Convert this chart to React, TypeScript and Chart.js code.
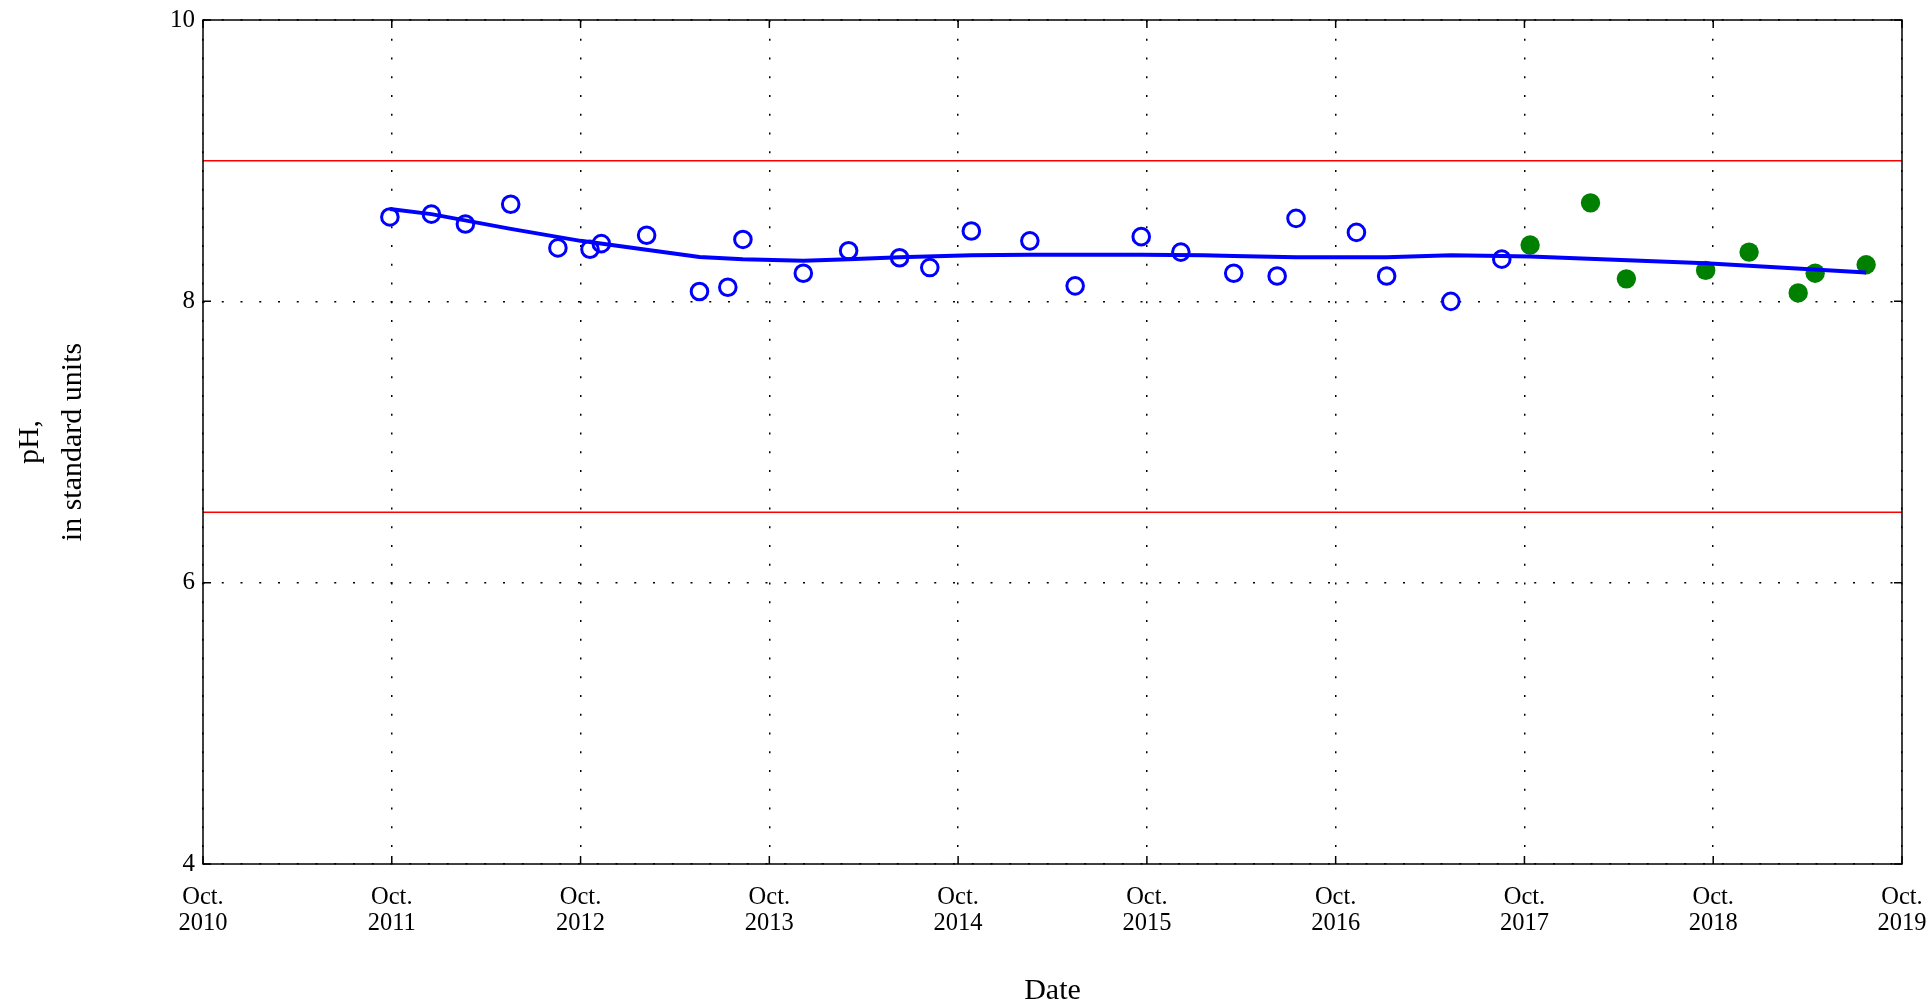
import React, { useEffect, useRef } from "react";
import { Chart, registerables } from "chart.js";

Chart.register(...registerables);

// X axis: ticks at October of each year (decimal years)
const xTickYears = [2010, 2011, 2012, 2013, 2014, 2015, 2016, 2017, 2018, 2019];
const xTickValues = xTickYears.map((y) => y + 0.75);
const xMin = 2010.75;
const xMax = 2019.75;

// Y axis
const yMin = 4;
const yMax = 10;
const yStep = 2;

// Reference limits (pH standard units)
const upperLimit = 9.0;
const lowerLimit = 6.5;

// Samples before Oct. 2017 (open blue circles)
const blueDates = [
  2011.74, 2011.96, 2012.14, 2012.38, 2012.63, 2012.80, 2012.86, 2013.10, 2013.38,
  2013.53, 2013.61, 2013.93, 2014.17, 2014.44, 2014.60, 2014.82, 2015.13, 2015.37,
  2015.72, 2015.93, 2016.21, 2016.44, 2016.54, 2016.86, 2017.02, 2017.36, 2017.63,
];
const blueValues = [
  8.60, 8.62, 8.55, 8.69, 8.38, 8.37, 8.41, 8.47, 8.07,
  8.10, 8.44, 8.20, 8.36, 8.31, 8.24, 8.50, 8.43, 8.11,
  8.46, 8.35, 8.20, 8.18, 8.59, 8.49, 8.18, 8.00, 8.30,
];

// Recent samples (filled green circles)
const greenDates = [2017.78, 2018.10, 2018.29, 2018.71, 2018.94, 2019.20, 2019.29, 2019.56];
const greenValues = [8.40, 8.70, 8.16, 8.22, 8.35, 8.06, 8.20, 8.26];

// Smoothed trend line
const trendDates = [
  2011.74, 2011.96, 2012.38, 2012.75, 2013.38, 2013.61, 2013.93, 2014.17, 2014.44,
  2014.82, 2015.13, 2015.72, 2016.05, 2016.21, 2016.54, 2017.02, 2017.36, 2017.63,
  2017.78, 2018.71, 2019.56,
];
const trendValues = [
  8.656, 8.62, 8.515, 8.43, 8.315, 8.30, 8.289, 8.30, 8.313,
  8.327, 8.332, 8.332, 8.327, 8.322, 8.313, 8.313, 8.327, 8.322,
  8.318, 8.27, 8.205,
];

const FONT = "'Liberation Serif', 'DejaVu Serif', serif";

const framePlugin = {
  id: "frame",
  afterDatasetsDraw(chart: any) {
    const { ctx, chartArea } = chart;
    const { left, right, top, bottom } = chartArea;
    const xs = chart.scales.x;
    const ys = chart.scales.y;
    ctx.save();
    ctx.setLineDash([]);
    ctx.strokeStyle = "#000";
    ctx.lineWidth = 1.5;
    ctx.strokeRect(left, top, right - left, bottom - top);
    const L = 8;
    ctx.beginPath();
    xs.ticks.forEach((t: any) => {
      const px = xs.getPixelForValue(t.value);
      ctx.moveTo(px, bottom);
      ctx.lineTo(px, bottom - L);
      ctx.moveTo(px, top);
      ctx.lineTo(px, top + L);
    });
    ys.ticks.forEach((t: any) => {
      const py = ys.getPixelForValue(t.value);
      ctx.moveTo(left, py);
      ctx.lineTo(left + L, py);
      ctx.moveTo(right, py);
      ctx.lineTo(right - L, py);
    });
    ctx.stroke();
    ctx.restore();
  },
};

export default function App() {
  const ref = useRef<HTMLCanvasElement | null>(null);

  useEffect(() => {
    if (!ref.current) return;
    const chart = new Chart(ref.current, {
      type: "scatter",
      data: {
        datasets: [
          {
            label: "Trend",
            data: trendDates.map((x, i) => ({ x, y: trendValues[i] })),
            showLine: true,
            borderColor: "#0000FF",
            borderWidth: 4,
            pointRadius: 0,
            tension: 0,
            order: 0,
          },
          {
            label: "Samples",
            data: blueDates.map((x, i) => ({ x, y: blueValues[i] })),
            pointStyle: "circle",
            pointRadius: 8.3,
            borderWidth: 3,
            borderColor: "#0000FF",
            backgroundColor: "rgba(0,0,0,0)",
            order: 1,
          },
          {
            label: "Recent samples",
            data: greenDates.map((x, i) => ({ x, y: greenValues[i] })),
            pointStyle: "circle",
            pointRadius: 9.7,
            borderWidth: 0,
            borderColor: "#008000",
            backgroundColor: "#008000",
            order: 1,
          },
          {
            label: "Upper limit",
            data: [
              { x: xMin, y: upperLimit },
              { x: xMax, y: upperLimit },
            ],
            showLine: true,
            borderColor: "#FF0000",
            borderWidth: 1.5,
            pointRadius: 0,
            order: 2,
          },
          {
            label: "Lower limit",
            data: [
              { x: xMin, y: lowerLimit },
              { x: xMax, y: lowerLimit },
            ],
            showLine: true,
            borderColor: "#FF0000",
            borderWidth: 1.5,
            pointRadius: 0,
            order: 2,
          },
        ],
      },
      options: {
        responsive: false,
        animation: false,
        layout: { padding: { top: 20, right: 30, bottom: 0, left: 0 } },
        plugins: {
          legend: { display: false },
          tooltip: { enabled: false },
        },
        scales: {
          x: {
            type: "linear",
            min: xMin,
            max: xMax,
            afterBuildTicks: (s: any) => {
              s.ticks = xTickValues.map((v) => ({ value: v }));
            },
            afterFit: (s: any) => {
              s.height = 142;
              s.paddingLeft = 0;
              s.paddingRight = 0;
            },
            ticks: {
              autoSkip: false,
              maxRotation: 0,
              minRotation: 0,
              padding: 20,
              color: "#000",
              font: { family: FONT, size: 24.5, lineHeight: 1.09 },
              callback: (_v: any, i: number) => ["Oct.", String(xTickYears[i])],
            },
            grid: { color: "#000", lineWidth: 1.5, drawTicks: false },
            border: { display: false, dash: [2, 16.75] },
            title: {
              display: true,
              text: "Date",
              color: "#000",
              font: { family: FONT, size: 30, lineHeight: 1 },
              padding: 0,
            },
          },
          y: {
            type: "linear",
            min: yMin,
            max: yMax,
            afterFit: (s: any) => {
              s.width = 203;
              s.paddingTop = 0;
              s.paddingBottom = 0;
            },
            ticks: {
              stepSize: yStep,
              padding: 8,
              color: "#000",
              font: { family: FONT, size: 25 },
            },
            grid: { color: "#000", lineWidth: 1.5, drawTicks: false },
            border: { display: false, dash: [2, 16.75] },
            title: {
              display: true,
              text: ["pH,", "in standard units"],
              color: "#000",
              font: { family: FONT, size: 30, lineHeight: 1.44 },
              padding: { top: 8.4, bottom: 0 },
            },
          },
        },
      },
      plugins: [framePlugin],
    });
    return () => chart.destroy();
  }, []);

  return (
    <div style={{ position: "fixed", left: 0, top: 0, width: 1932, height: 1006, background: "#fff" }}>
      <canvas ref={ref} width={1932} height={1006} style={{ display: "block" }} />
    </div>
  );
}
